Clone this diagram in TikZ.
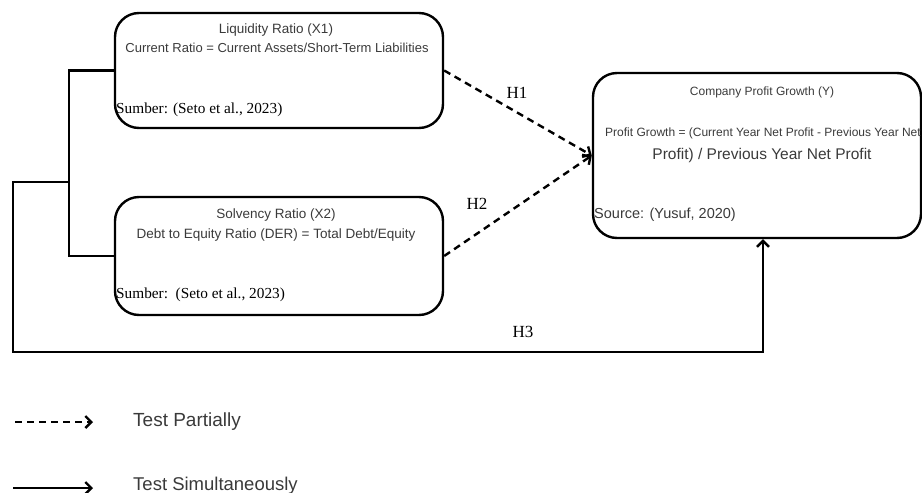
\documentclass[tikz,border=0pt]{standalone}
\usepackage{fontspec}
\setmainfont{Liberation Serif}
\setsansfont{Liberation Sans}
\usetikzlibrary{arrows.meta}
\definecolor{txt}{HTML}{3A3A3A}
\begin{document}
\begin{tikzpicture}[x=1pt,y=-1pt,
 box/.style={draw, line width=2.4pt, rounded corners=24pt, minimum width=328pt, inner sep=0pt},
 conn/.style={line width=2.4pt},
 dconn/.style={line width=2.4pt, dash pattern=on 7pt off 5pt},
 tip/.style={-{Straight Barb[length=6pt,width=12pt,line width=2.4pt]}},
 sans/.style={font=\sffamily, text=txt, inner sep=0pt},
 ser/.style={font=\rmfamily, inner sep=0pt}]
\useasboundingbox (0,0) rectangle (922,493);
% boxes
\node[box, minimum height=115pt] (b1) at (279,70.5) {};
\node[box, minimum height=118pt] (b2) at (279,256) {};
\node[box, minimum height=165pt] (b3) at (757,155.5) {};
% box 1 texts
\node[sans, font=\sffamily\fontsize{13.5}{15}\selectfont] (t1a) at (276,30) {Liquidity Ratio (X1)};
\node[sans, font=\sffamily\fontsize{13}{15}\selectfont] (t1b) at (277,48) {Current Ratio = Current Assets/Short-Term Liabilities};
\node[ser, anchor=west, font=\rmfamily\fontsize{15.3}{17}\selectfont] (t1c) at (116,110) {Sumber: (Seto et al., 2023)};
% box 2 texts
\node[sans, font=\sffamily\fontsize{13.5}{15}\selectfont] (t2a) at (276,215) {Solvency Ratio (X2)};
\node[sans, font=\sffamily\fontsize{13.5}{15}\selectfont] (t2b) at (276,235) {Debt to Equity Ratio (DER) = Total Debt/Equity};
\node[ser, anchor=west, font=\rmfamily\fontsize{15.3}{17}\selectfont] (t2c) at (116,295) {Sumber:\ \ (Seto et al., 2023)};
% box 3 texts
\node[sans, font=\sffamily\fontsize{12}{14}\selectfont] (t3a) at (762,92) {Company Profit Growth (Y)};
\node[sans, anchor=west, font=\sffamily\fontsize{12}{14}\selectfont] (t3b) at (605,133) {Profit Growth = (Current Year Net Profit - Previous Year Net};
\node[sans, font=\sffamily\fontsize{15.5}{17}\selectfont] (t3c) at (762,155) {Profit) / Previous Year Net Profit};
\node[sans, anchor=west, font=\sffamily\fontsize{14.5}{16}\selectfont] (t3d) at (594,215) {Source: (Yusuf, 2020)};
% hypothesis labels
\node[ser, font=\rmfamily\fontsize{17}{18}\selectfont] (h1) at (517,93) {H1};
\node[ser, font=\rmfamily\fontsize{17}{18}\selectfont] (h2) at (477,204) {H2};
\node[ser, font=\rmfamily\fontsize{17}{18}\selectfont] (h3) at (523,332) {H3};
% dashed arrows
\draw[dconn, tip] (b1.east) -- (b3.west);
\draw[dconn, tip] (b2.east) -- (b3.west);
% left tree and H3
\coordinate (tl) at (69,182);
\coordinate (tk) at (13,182);
\coordinate (bl) at (13,352);
\coordinate (h3end) at ([xshift=6pt]b3.south);
\draw[conn] (b1.west) -| (tl) |- (b2.west);
\draw[conn, tip] (tl) -- (tk) -- (bl) -| (h3end);
% legend
\coordinate (l1a) at (15,422);
\coordinate (l1b) at (93,422);
\coordinate (l2a) at (13,488);
\coordinate (l2b) at (93,488);
\draw[dconn, tip] (l1a) -- (l1b);
\draw[conn, tip] (l2a) -- (l2b);
\node[sans, anchor=west, font=\sffamily\fontsize{19}{21}\selectfont] (lg1) at (133,422) {Test Partially};
\node[sans, anchor=west, font=\sffamily\fontsize{18.5}{20}\selectfont] (lg2) at (133,486) {Test Simultaneously};
\end{tikzpicture}
\end{document}
